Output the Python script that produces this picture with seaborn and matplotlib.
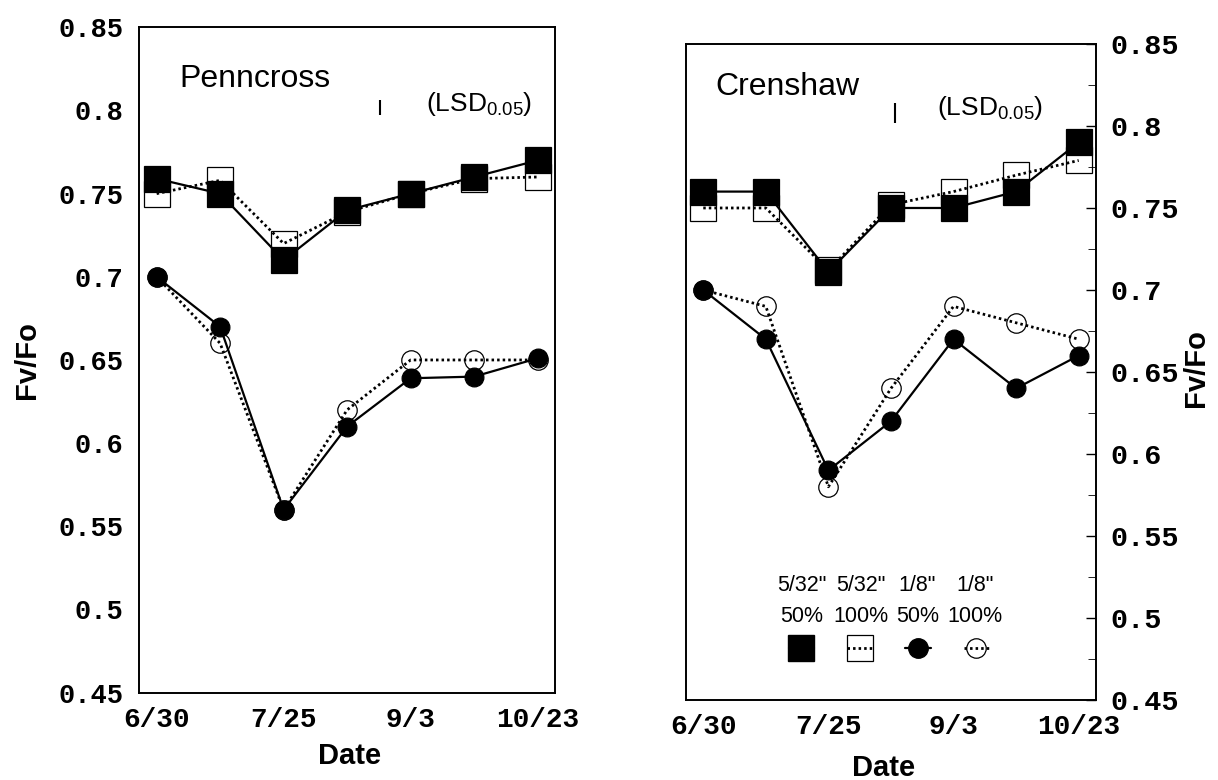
import seaborn as sns
import matplotlib.pyplot as plt
from matplotlib.lines import Line2D
from matplotlib.ticker import MultipleLocator

# sampling dates (only every other one is labelled)
dates = ["6/30", "", "7/25", "", "9/3", "", "10/23"]
pos = list(range(len(dates)))

yticks = [0.45, 0.5, 0.55, 0.6, 0.65, 0.7, 0.75, 0.8, 0.85]
ylabels = ["0.45", "0.5", "0.55", "0.6", "0.65", "0.7", "0.75", "0.8", "0.85"]

# Penncross
penn_532_50 = [0.759, 0.750, 0.710, 0.740, 0.750, 0.760, 0.770]
penn_532_100 = [0.750, 0.758, 0.720, 0.739, 0.750, 0.759, 0.760]
penn_18_50 = [0.700, 0.670, 0.560, 0.610, 0.639, 0.640, 0.651]
penn_18_100 = [0.700, 0.660, 0.560, 0.620, 0.650, 0.650, 0.650]

# Crenshaw
cren_532_50 = [0.760, 0.760, 0.711, 0.750, 0.750, 0.760, 0.790]
cren_532_100 = [0.750, 0.750, 0.712, 0.752, 0.760, 0.770, 0.779]
cren_18_50 = [0.700, 0.670, 0.590, 0.620, 0.670, 0.640, 0.660]
cren_18_100 = [0.700, 0.690, 0.580, 0.640, 0.690, 0.680, 0.670]

# LSD(0.05) bars: x position, centre, length
lsd_x = [3.52, 3.06]
lsd_y = [0.802, 0.808]
lsd_len = [0.009, 0.012]

leg_top = ['5/32"', '5/32"', '1/8"', '1/8"']
leg_bot = ["50%", "100%", "50%", "100%"]

sns.set_style("white")
plt.rcParams["font.family"] = ["Liberation Sans", "DejaVu Sans"]
plt.rcParams["mathtext.default"] = "regular"
plt.rcParams["text.color"] = "black"
plt.rcParams["axes.labelcolor"] = "black"
plt.rcParams["xtick.color"] = "black"
plt.rcParams["ytick.color"] = "black"

DOT = (0, (0.9, 1.1))

fig = plt.figure(figsize=(12.18, 7.8), dpi=100)
ax1 = fig.add_axes([0.114, 0.112, 0.342, 0.853])
ax2 = fig.add_axes([0.563, 0.1026, 0.337, 0.841])


def draw_panel(ax, s50, s100, c50, c100):
    # open (100%) series first so the filled ones sit on top
    sns.lineplot(x=pos, y=s100, ax=ax, color="black", lw=2.0, linestyle=DOT,
                 marker="s", ms=19, mfc="none", mec="black", mew=0.9,
                 errorbar=None, zorder=2)
    sns.lineplot(x=pos, y=s50, ax=ax, color="black", lw=1.6,
                 marker="s", ms=19, mfc="black", mec="black", mew=0.9,
                 errorbar=None, zorder=3)
    sns.lineplot(x=pos, y=c100, ax=ax, color="black", lw=2.0, linestyle=DOT,
                 marker="o", ms=14, mfc="none", mec="black", mew=0.9,
                 errorbar=None, zorder=2)
    sns.lineplot(x=pos, y=c50, ax=ax, color="black", lw=1.6,
                 marker="o", ms=13.5, mfc="black", mec="black", mew=0.9,
                 errorbar=None, zorder=3)

    ax.set_xlim(-0.28, 6.28)
    ax.set_ylim(0.45, 0.85)
    ax.set_xticks(pos)
    ax.set_xticklabels(dates)
    ax.set_yticks(yticks)
    ax.set_yticklabels(ylabels)
    ax.tick_params(direction="in", length=7, width=1, colors="black")
    ax.tick_params(axis="x", pad=10, labelsize=20)
    for lbl in ax.get_xticklabels() + ax.get_yticklabels():
        lbl.set_fontfamily("Liberation Mono")
        lbl.set_fontweight("bold")
    for sp in ax.spines.values():
        sp.set_visible(True)
        sp.set_color("black")
        sp.set_linewidth(1.4)
    ax.set_xlabel("Date", fontsize=21, fontweight="bold")
    ax.set_ylabel("Fv/Fo", fontsize=21, fontweight="bold")


draw_panel(ax1, penn_532_50, penn_532_100, penn_18_50, penn_18_100)
draw_panel(ax2, cren_532_50, cren_532_100, cren_18_50, cren_18_100)

# left panel: y axis on the left
ax1.tick_params(axis="y", pad=11, labelsize=19.5)
ax1.yaxis.set_label_coords(-0.235, 0.5)
ax1.xaxis.set_label_coords(0.507, -0.074)

# right panel: y axis on the right with minor ticks
ax2.yaxis.tick_right()
ax2.yaxis.set_label_position("right")
ax2.yaxis.set_minor_locator(MultipleLocator(0.025))
ax2.tick_params(axis="y", which="both", direction="in", pad=10, labelsize=20.5)
ax2.tick_params(axis="y", which="minor", length=6)
for lbl in ax2.get_yticklabels():
    lbl.set_fontfamily("Liberation Mono")
    lbl.set_fontweight("bold")
ax2.yaxis.set_label_coords(1.208, 0.506)
ax2.xaxis.set_label_coords(0.481, -0.082)

# titles and LSD markers
ax1.text(0.098, 0.922, "Penncross", transform=ax1.transAxes, fontsize=23, va="center")
ax2.text(0.072, 0.934, "Crenshaw", transform=ax2.transAxes, fontsize=23, va="center")
for ax, x, y, L, tx, ty in [(ax1, lsd_x[0], lsd_y[0], lsd_len[0], 0.69, 0.884),
                            (ax2, lsd_x[1], lsd_y[1], lsd_len[1], 0.611, 0.903)]:
    ax.vlines(x, y - L / 2, y + L / 2, color="black", lw=1.5)
    ax.text(tx, ty, "(LSD$_{0.05}$)", transform=ax.transAxes, fontsize=19, va="center")

# legend in the Crenshaw panel: markers in a row, labels above
handles = [
    Line2D([], [], color="black", lw=1.6, marker="s", ms=19, mfc="black", mec="black"),
    Line2D([], [], color="black", lw=2.0, ls=DOT, marker="s", ms=19, mfc="none", mec="black", mew=0.9),
    Line2D([], [], color="black", lw=1.6, marker="o", ms=14, mfc="black", mec="black"),
    Line2D([], [], color="black", lw=2.0, ls=DOT, marker="o", ms=14, mfc="none", mec="black", mew=0.9),
]
ax2.legend(handles, [""] * 4, ncol=4, loc="center", bbox_to_anchor=(0.495, 0.076),
           frameon=False, handlelength=1.3, handletextpad=0, columnspacing=1.7,
           fontsize=14, borderpad=0, borderaxespad=0)
leg_x = [0.283, 0.427, 0.564, 0.704]
for x, t, b in zip(leg_x, leg_top, leg_bot):
    ax2.text(x, 0.175, t, transform=ax2.transAxes, fontsize=15.5, ha="center", va="center")
    ax2.text(x, 0.1265, b, transform=ax2.transAxes, fontsize=15.5, ha="center", va="center")

fig.savefig("out.png", dpi=100)
